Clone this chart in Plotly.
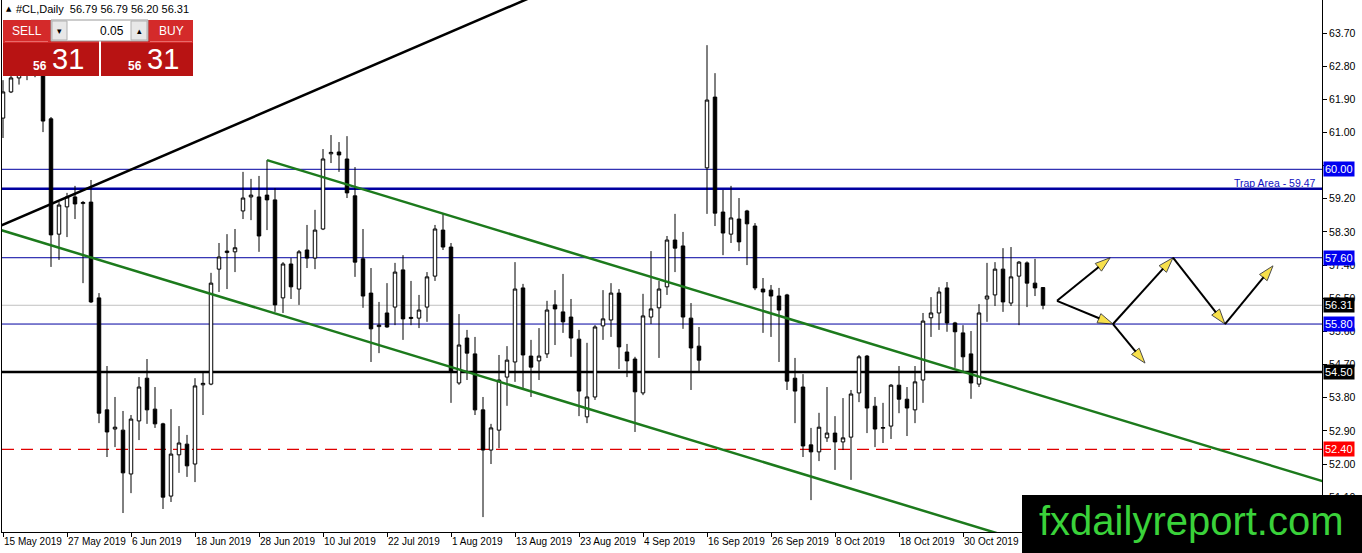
import pandas as pd
import plotly.graph_objects as go

# #CL daily bars, 15 May 2019 .. 13 Nov 2019
dates = pd.bdate_range('2019-05-15', periods=131)

open_ = [61.39, 62.10, 62.48, 63.05, 62.85, 62.65, 61.37, 58.24, 58.98, 59.25,
         59.07, 59.11, 56.51, 53.47, 52.95, 52.92, 51.73, 53.17, 54.33, 53.49,
         53.09, 51.13, 52.25, 52.54, 52.00, 54.15, 54.17, 57.29, 57.74, 57.76,
         58.87, 59.25, 59.25, 59.30, 59.17, 56.51, 57.43, 56.75, 57.81, 57.59,
         58.38, 60.42, 60.47, 60.28, 59.28, 57.57, 56.64, 55.73, 56.10, 56.26,
         57.27, 55.95, 55.96, 56.26, 57.10, 58.35, 57.89, 54.20, 55.42, 54.99,
         53.47, 52.38, 52.92, 54.36, 54.77, 56.78, 54.93, 54.80, 54.99, 56.32,
         56.13, 55.99, 55.39, 53.28, 53.82, 55.75, 55.91, 56.64, 55.04, 54.85,
         53.93, 55.99, 56.24, 56.81, 58.08, 57.92, 55.96, 55.20, 60.04, 61.96,
         58.84, 58.24, 58.65, 58.87, 58.46, 56.75, 56.72, 56.56, 56.59, 54.33,
         54.09, 52.52, 52.33, 52.71, 52.84, 52.60, 52.73, 53.93, 54.93, 53.57,
         52.97, 53.03, 54.14, 53.76, 53.47, 54.28, 55.97, 56.10, 56.78, 55.83,
         55.56, 54.99, 54.17, 56.48, 56.59, 57.29, 56.37, 57.10, 57.46, 56.91,
         56.79]
high = [62.42, 62.70, 63.30, 63.40, 63.20, 62.80, 61.42, 59.11, 59.36, 59.55,
        59.14, 59.71, 56.64, 54.66, 53.82, 53.44, 53.33, 54.36, 54.85, 54.09,
        53.12, 53.49, 53.03, 52.79, 54.33, 54.47, 57.19, 58.00, 58.24, 58.38,
        59.93, 59.74, 59.82, 60.25, 59.49, 57.48, 57.59, 57.81, 58.49, 58.90,
        60.55, 60.93, 60.74, 60.90, 60.06, 58.38, 57.32, 56.40, 56.91, 57.46,
        57.67, 56.97, 56.59, 57.21, 58.49, 58.81, 58.00, 56.07, 55.64, 55.45,
        53.82, 53.09, 54.96, 55.20, 57.48, 56.89, 55.37, 55.69, 56.43, 56.72,
        57.16, 56.48, 55.64, 55.29, 55.77, 56.72, 56.91, 56.75, 55.26, 54.91,
        56.62, 57.78, 56.97, 58.19, 58.79, 58.30, 56.37, 55.72, 63.37, 62.61,
        59.44, 59.55, 59.22, 58.90, 58.54, 57.05, 56.86, 56.78, 56.62, 54.88,
        54.44, 52.98, 53.39, 54.09, 53.30, 53.79, 54.01, 54.96, 54.96, 53.82,
        53.66, 54.17, 54.66, 54.09, 54.66, 56.10, 56.53, 56.80, 56.94, 55.86,
        55.77, 55.61, 56.34, 57.46, 57.48, 57.86, 57.89, 57.51, 57.50, 57.57,
        56.79]
low = [60.85, 62.07, 62.30, 62.42, 62.50, 61.01, 57.35, 57.54, 58.16, 58.65,
       56.91, 56.37, 53.11, 52.19, 52.46, 50.67, 51.21, 52.65, 53.09, 52.98,
       50.78, 50.97, 51.76, 51.65, 51.51, 53.33, 54.14, 56.67, 56.75, 57.21,
       58.65, 58.62, 57.76, 58.35, 56.13, 56.10, 56.48, 56.32, 57.32, 57.29,
       58.35, 60.17, 59.93, 59.22, 57.08, 56.24, 54.77, 55.01, 55.70, 55.77,
       55.37, 55.77, 55.69, 55.86, 56.97, 57.81, 53.66, 54.15, 54.28, 53.33,
       50.56, 52.00, 52.43, 53.58, 54.23, 54.01, 53.82, 54.28, 54.88, 55.23,
       55.56, 54.91, 53.30, 53.11, 53.74, 55.37, 55.45, 54.58, 54.36, 52.87,
       53.87, 55.80, 54.88, 56.59, 57.21, 55.67, 54.01, 54.47, 58.79, 58.46,
       57.67, 58.00, 57.78, 57.40, 56.72, 55.56, 55.45, 54.77, 54.01, 53.11,
       52.19, 51.02, 52.08, 52.60, 51.84, 52.38, 51.57, 53.68, 52.84, 52.46,
       52.57, 52.68, 53.38, 52.76, 53.11, 53.66, 55.45, 55.64, 55.59, 54.61,
       54.47, 53.77, 54.09, 55.86, 56.29, 56.13, 56.29, 55.77, 56.26, 56.56,
       56.20]
close = [62.10, 62.48, 63.05, 62.85, 62.65, 61.31, 58.22, 59.03, 59.25, 59.06,
         59.10, 56.40, 53.38, 52.87, 53.00, 51.76, 53.22, 54.09, 53.47, 53.09,
         51.10, 52.27, 52.57, 51.95, 54.12, 54.19, 56.91, 57.62, 57.78, 57.87,
         59.22, 59.30, 58.19, 59.17, 56.32, 57.43, 56.81, 57.76, 57.59, 58.35,
         60.28, 60.46, 60.39, 59.36, 57.48, 56.56, 55.67, 55.77, 55.72, 57.21,
         55.94, 55.98, 56.18, 57.08, 58.38, 57.89, 54.50, 55.23, 55.01, 53.47,
         52.38, 52.98, 54.28, 54.82, 56.75, 54.96, 54.63, 54.93, 56.18, 56.21,
         55.86, 55.42, 53.98, 53.82, 55.72, 55.94, 56.64, 55.18, 54.80, 53.96,
         56.02, 56.21, 56.75, 58.08, 57.86, 55.99, 55.15, 54.82, 61.88, 58.81,
         58.27, 58.68, 58.03, 58.52, 56.78, 56.67, 56.56, 56.18, 54.25, 53.98,
         52.49, 52.33, 53.00, 52.84, 52.60, 52.71, 53.90, 54.91, 53.52, 52.95,
         52.99, 54.14, 53.76, 53.52, 54.23, 55.88, 56.10, 56.67, 55.83, 55.59,
         54.91, 54.20, 56.10, 56.56, 57.29, 56.40, 57.08, 57.48, 56.91, 56.78,
         56.31]

# horizontal levels drawn on the chart
levels = [60.00, 59.47, 57.60, 56.31, 55.80, 54.50, 52.40]
level_colors = ['#0000a0', '#0000a0', '#0000a0', '#c0c0c0', '#0000a0', '#000000', '#e00000']
level_widths = [1, 2.5, 1, 1, 1, 2.5, 1.2]
level_dash = ['solid', 'solid', 'solid', 'solid', 'solid', 'solid', '12px,7px']
# boxes on the price scale
tag_prices = [60.00, 57.60, 56.31, 55.80, 54.50, 52.40]
tag_colors = ['#0000f0', '#0000f0', '#000000', '#0000f0', '#000000', '#ff0000']

# trend lines (bar index, price)
black_x = [-1, 70]
black_y = [58.40, 65.04]
chan_top_x = [33, 170]
chan_top_y = [60.25, 51.20]
chan_bot_x = [-1, 170]
chan_bot_y = [58.40, 47.10]

# projected path arrows (bar index, price)
arrows = [
    ((131.75, 56.43), (138.4, 57.60)),
    ((131.75, 56.43), (138.75, 55.80)),
    ((138.75, 55.80), (146.25, 57.60)),
    ((138.75, 55.80), (142.75, 54.74)),
    ((146.25, 57.60), (152.75, 55.80)),
    ((152.75, 55.80), (158.75, 57.38)),
]

tick_step = 8
tick_idx = list(range(0, 121, tick_step))
tick_text = [f"{dates[i].day} {dates[i].strftime('%b %Y')}" for i in tick_idx]
price_ticks = [round(51.10 + 0.9 * k, 2) for k in range(15)]
# 60.10 sits under the 60.00 tag, so it has no visible label
price_text = ['' if v == 60.10 else f'{v:.2f}' for v in price_ticks]

FONT = 'Liberation Sans'
idx = list(range(len(dates)))

fig = go.Figure()
fig.add_trace(go.Candlestick(
    x=idx, open=open_, high=high, low=low, close=close,
    increasing=dict(line=dict(color='black', width=1), fillcolor='white'),
    decreasing=dict(line=dict(color='black', width=1), fillcolor='black'),
    whiskerwidth=0, hoverinfo='skip', showlegend=False))

for lx, ly, col in [(black_x, black_y, 'black'),
                    (chan_top_x, chan_top_y, '#1c7a1c'),
                    (chan_bot_x, chan_bot_y, '#1c7a1c')]:
    fig.add_trace(go.Scatter(x=lx, y=ly, mode='lines', line=dict(color=col, width=2.5),
                             hoverinfo='skip', showlegend=False))

for (x0, y0), (x1, y1) in arrows:
    fig.add_trace(go.Scatter(
        x=[x0, x1], y=[y0, y1], mode='lines+markers',
        line=dict(color='black', width=2),
        marker=dict(symbol=['circle', 'arrow'], size=[0, 16], angleref='previous',
                    color='#f5d400', line=dict(color='black', width=1)),
        hoverinfo='skip', showlegend=False))

shapes = []
for p, c, w, d in zip(levels, level_colors, level_widths, level_dash):
    shapes.append(dict(type='line', xref='paper', x0=0, x1=1, yref='y', y0=p, y1=p,
                       line=dict(color=c, width=w, dash=d), layer='below'))

# plot area in pixels: x 2..1322, y 0..532
PL, PW, PH = 2, 1320, 532
def px(x):
    return (x - PL) / PW
def py(y):
    return 1 - y / PH

def rect(x0, y0, x1, y1, fill, line=None, lw=0):
    shapes.append(dict(type='rect', xref='paper', yref='paper',
                       x0=px(x0), x1=px(x1), y0=py(y1), y1=py(y0),
                       fillcolor=fill, line=dict(color=line or fill, width=lw), layer='above'))

# one-click trading panel
rect(3, 20, 99, 43, '#d42a2a')
rect(3, 43, 99, 76, '#b81313')
rect(101, 20, 193, 43, '#d42a2a')
rect(101, 43, 193, 76, '#b81313')
rect(51, 20, 148, 41, '#ffffff', '#9a9a9a', 1)
rect(52, 21, 67, 40, '#e8e8e8', '#b0b0b0', 1)
rect(131, 21, 147, 40, '#e8e8e8', '#b0b0b0', 1)
rect(5, 41, 48, 42, '#e86a6a')
rect(150, 41, 192, 42, '#e86a6a')
# logo
rect(1022, 495, 1364, 555, '#000000')

annotations = []
def note(x, y, text, size, color='black', xanchor='left', yanchor='middle', family=FONT, **kw):
    annotations.append(dict(xref='paper', yref='paper', x=px(x), y=py(y), text=text,
                            showarrow=False, xanchor=xanchor, yanchor=yanchor,
                            font=dict(family=family, size=size, color=color), **kw))

note(4, 9, '\u25b2', 7, family='DejaVu Sans')
note(14, 9, '#CL,Daily  56.79 56.79 56.20 56.31', 11)
note(27, 31, 'SELL', 12, 'white', 'center')
note(171, 31, 'BUY', 12, 'white', 'center')
note(59.5, 31, '\u25be', 9, 'black', 'center', family='DejaVu Sans')
note(139, 31, '\u25b4', 9, 'black', 'center', family='DejaVu Sans')
note(126, 31, '0.05', 12, 'black', 'right')
note(49, 66, '<b>56</b>', 12, 'white', 'right')
note(50, 59, '31', 29, 'white', 'left')
note(144, 66, '<b>56</b>', 12, 'white', 'right')
note(145, 59, '31', 29, 'white', 'left')
note(1191, 521, 'fxdailyreport.com', 40, '#3ad23a', 'center')

annotations.append(dict(xref='paper', yref='y', x=px(1317), y=59.47, text='Trap Area - 59.47',
                        showarrow=False, xanchor='right', yanchor='bottom', yshift=-2,
                        font=dict(family=FONT, size=10.5, color='#1010c0')))
for p, c in zip(tag_prices, tag_colors):
    annotations.append(dict(xref='paper', yref='y', x=px(1323), y=p, text=f'{p:.2f}',
                            showarrow=False, xanchor='left', yanchor='middle',
                            bgcolor=c, borderpad=1,
                            font=dict(family=FONT, size=11, color='white')))

fig.update_layout(
    width=1362, height=553,
    margin=dict(l=PL, r=1362 - PL - PW, t=0, b=553 - PH, autoexpand=False),
    paper_bgcolor='white', plot_bgcolor='white',
    boxgap=0.38, showlegend=False, hovermode=False,
    shapes=shapes, annotations=annotations,
    xaxis=dict(range=[-0.125, (PW + PL - 3) / 8], rangeslider=dict(visible=False),
               tickvals=tick_idx, ticktext=tick_text, ticklabelposition='outside right',
               tickangle=0, automargin=False,
               ticks='outside', ticklen=4, tickcolor='black', showgrid=False, zeroline=False,
               showline=True, linecolor='black', linewidth=1, mirror=True,
               tickfont=dict(family=FONT, size=10, color='black')),
    yaxis=dict(range=[63.70 - (PH - 33) / 36.84, 63.70 + 33 / 36.84], side='right',
               tickvals=price_ticks, ticktext=price_text, automargin=False,
               ticks='outside', ticklen=4, tickcolor='black', showgrid=False, zeroline=False,
               showline=True, linecolor='black', linewidth=1, mirror=True,
               tickfont=dict(family=FONT, size=10.5, color='black')),
)

fig.write_html('out.html', config={'displayModeBar': False},
               post_script="document.body.style.margin='0';document.body.style.overflow='hidden';")
